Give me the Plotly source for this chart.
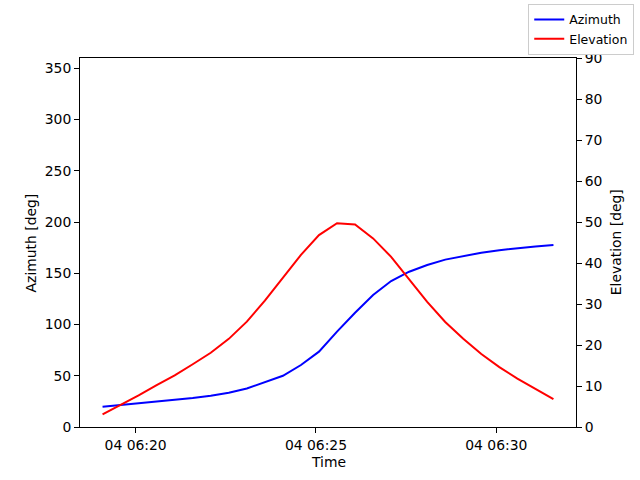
import plotly.graph_objects as go

# --- datos del pase ---
tiempos = [
    "2024-03-04 06:19:05", "2024-03-04 06:19:35", "2024-03-04 06:20:05",
    "2024-03-04 06:20:35", "2024-03-04 06:21:05", "2024-03-04 06:21:35",
    "2024-03-04 06:22:05", "2024-03-04 06:22:35", "2024-03-04 06:23:05",
    "2024-03-04 06:23:35", "2024-03-04 06:24:05", "2024-03-04 06:24:35",
    "2024-03-04 06:25:05", "2024-03-04 06:25:35", "2024-03-04 06:26:05",
    "2024-03-04 06:26:35", "2024-03-04 06:27:05", "2024-03-04 06:27:35",
    "2024-03-04 06:28:05", "2024-03-04 06:28:35", "2024-03-04 06:29:05",
    "2024-03-04 06:29:35", "2024-03-04 06:30:05", "2024-03-04 06:30:35",
    "2024-03-04 06:31:05", "2024-03-04 06:31:35",
]
azimut = [19.8, 21.5, 23.3, 24.6, 26.2, 28.2, 30.5, 33.5, 37.5, 43.5,
          50.0, 60.5, 73.5, 93.0, 111.5, 128.8, 142.4, 151.5, 158.0, 163.3,
          167.0, 170.0, 172.5, 174.5, 176.2, 177.6]
elevacion = [3.1, 5.3, 7.7, 10.2, 12.6, 15.3, 18.1, 21.5, 25.7, 30.8,
             36.5, 42.0, 46.8, 49.7, 49.4, 46.0, 41.5, 36.0, 30.5, 25.6,
             21.5, 17.8, 14.6, 11.8, 9.2, 6.8]

ticks_x = ["2024-03-04 06:20:00", "2024-03-04 06:25:00", "2024-03-04 06:30:00"]
ticks_az = [0, 50, 100, 150, 200, 250, 300, 350]
ticks_el = [0, 10, 20, 30, 40, 50, 60, 70, 80, 90]

fuente = dict(family="DejaVu Sans", size=13.9, color="black")

fig = go.Figure()
fig.add_trace(go.Scatter(x=tiempos, y=azimut, mode="lines", name="Azimuth",
                         line=dict(color="blue", width=2)))
fig.add_trace(go.Scatter(x=tiempos, y=elevacion, mode="lines", name="Elevation",
                         line=dict(color="red", width=2), yaxis="y2"))

eje = dict(showline=True, linecolor="black", linewidth=1, showgrid=False,
           zeroline=False, ticks="outside", ticklen=5, tickcolor="black",
           tickfont=fuente)

# titulos de ejes como anotaciones (posicion fija)
titulos = [
    dict(text="Time", x=0.5, y=-0.095, textangle=0),
    dict(text="Azimuth [deg]", x=-0.099, y=0.5, textangle=-90),
    dict(text="Elevation [deg]", x=1.080, y=0.5, textangle=-90),
]
for t in titulos:
    fig.add_annotation(xref="paper", yref="paper", showarrow=False,
                       xanchor="center", yanchor="middle", font=fuente, **t)

fig.update_layout(
    width=640, height=480, autosize=False,
    margin=dict(l=80, r=64, t=58, b=53, pad=0, autoexpand=False),
    paper_bgcolor="white", plot_bgcolor="white",
    font=fuente,
    xaxis=dict(eje, range=["2024-03-04 06:18:27.5", "2024-03-04 06:32:12.5"],
               tickvals=ticks_x, tickformat="%d %H:%M", mirror=True),
    yaxis=dict(eje, range=[0, 360], tickvals=ticks_az),
    yaxis2=dict(eje, range=[0, 90], tickvals=ticks_el, overlaying="y",
                side="right", anchor="x"),
    legend=dict(xref="container", yref="container", x=0.991, y=0.992,
                xanchor="right", yanchor="top", bordercolor="#cccccc",
                borderwidth=1, bgcolor="white",
                font=dict(family="DejaVu Sans", size=12.5, color="black"),
                itemwidth=30, tracegroupgap=0),
    showlegend=True,
)

fig.write_html("out.html", config={"displayModeBar": False},
               post_script="document.body.style.margin='0';")
